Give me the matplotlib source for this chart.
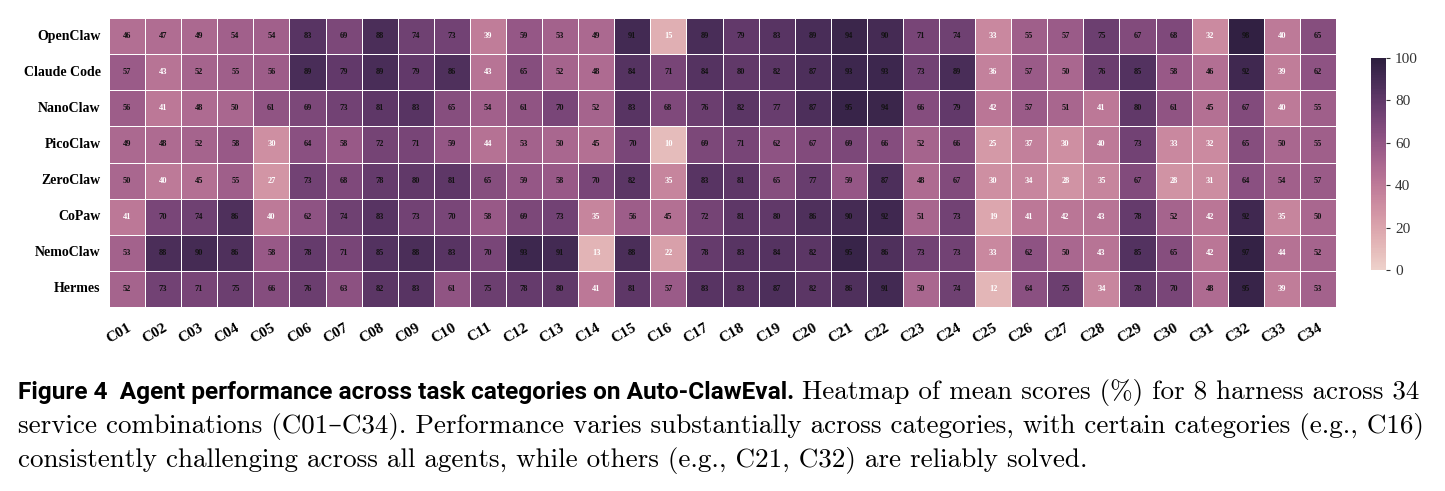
import numpy as np
import matplotlib
matplotlib.use("Agg")
import matplotlib.pyplot as plt
import seaborn as sns

agents = ["OpenClaw", "Claude Code", "NanoClaw", "PicoClaw",
          "ZeroClaw", "CoPaw", "NemoClaw", "Hermes"]
categories = ["C%02d" % i for i in range(1, 35)]

openclaw = [46, 47, 49, 54, 54, 83, 69, 88, 74, 73, 39, 59, 53, 49, 91, 15, 89,
            79, 83, 89, 94, 90, 71, 74, 33, 55, 57, 75, 67, 68, 32, 98, 40, 65]
claude_code = [57, 43, 52, 55, 56, 89, 79, 89, 79, 86, 43, 65, 52, 48, 84, 71, 84,
               80, 82, 87, 93, 93, 73, 89, 36, 57, 50, 76, 85, 58, 46, 92, 39, 62]
nanoclaw = [56, 41, 48, 50, 61, 69, 73, 81, 83, 65, 54, 61, 70, 52, 83, 68, 76,
            82, 77, 87, 95, 94, 66, 79, 42, 57, 51, 41, 80, 61, 45, 67, 40, 55]
picoclaw = [49, 48, 52, 58, 30, 64, 58, 72, 71, 59, 44, 53, 50, 45, 70, 10, 69,
            71, 62, 67, 69, 66, 52, 66, 25, 37, 30, 40, 73, 33, 32, 65, 50, 55]
zeroclaw = [50, 40, 45, 55, 27, 73, 68, 78, 80, 81, 65, 59, 58, 70, 82, 35, 83,
            81, 65, 77, 59, 87, 48, 67, 30, 34, 28, 35, 67, 28, 31, 64, 54, 57]
copaw = [41, 70, 74, 86, 40, 62, 74, 83, 73, 70, 58, 69, 73, 35, 56, 45, 72,
         81, 80, 86, 90, 92, 51, 73, 19, 41, 42, 43, 78, 52, 42, 92, 35, 50]
nemoclaw = [53, 88, 90, 86, 58, 78, 71, 85, 88, 83, 70, 93, 91, 13, 88, 22, 78,
            83, 84, 82, 95, 86, 73, 73, 33, 62, 50, 43, 85, 65, 42, 97, 44, 52]
hermes = [52, 73, 71, 75, 66, 76, 63, 82, 83, 61, 75, 78, 80, 41, 81, 57, 83,
          83, 87, 82, 86, 91, 50, 74, 12, 64, 75, 34, 78, 70, 48, 95, 39, 53]

scores = np.array([openclaw, claude_code, nanoclaw, picoclaw,
                   zeroclaw, copaw, nemoclaw, hermes])

serif = "Liberation Serif"
W, H = 1445, 491
fig = plt.figure(figsize=(W / 100, H / 100), dpi=100)

# heatmap + colorbar axes placed in pixel coords
ax = fig.add_axes([109 / W, 1 - 307 / H, (1336 - 109) / W, (307 - 18) / H])
cax = fig.add_axes([1371 / W, 1 - 270 / H, 15 / W, (270 - 58) / H])

cmap = sns.cubehelix_palette(as_cmap=True)
sns.heatmap(scores, ax=ax, cbar_ax=cax, cmap=cmap, vmin=0, vmax=100,
            linewidths=0.6, linecolor="white", annot=False)

# cell labels: white on light cells, black on dark ones
for i in range(scores.shape[0]):
    for j in range(scores.shape[1]):
        v = scores[i, j]
        ax.text(j + 0.5, i + 0.5, str(v), ha="center", va="center",
                fontsize=6, fontweight="bold", family=serif,
                color="white" if v < 45 else "#111111")

ax.set_yticks(np.arange(len(agents)) + 0.5)
ax.set_yticklabels(agents, rotation=0, fontsize=10, fontweight="bold", family=serif)
ax.set_xticks(np.arange(len(categories)) + 0.5)
ax.set_xticklabels(categories, rotation=30, ha="right", rotation_mode="anchor",
                   fontsize=11, fontweight="bold", family=serif)
ax.tick_params(length=0, pad=6)
ax.tick_params(axis="x", pad=10)

cax.tick_params(labelsize=11, length=3, width=0.8, colors="#333333")
for t in cax.get_yticklabels():
    t.set_family(serif)
cax.set_yticks([0, 20, 40, 60, 80, 100])

# caption: bold sans lead-in then serif body
fs = 19.5
lead = fig.text(18 / W, 1 - 393 / H, "Figure 4  Agent performance across task categories on Auto-ClawEval.",
                family="Roboto", fontweight="bold", fontsize=17.6, va="center", ha="left")
fig.canvas.draw()
bb = lead.get_window_extent()
x1 = (bb.x1 + 8) / W
body = ["cmr10", "DejaVu Serif"]
fig.text(x1, 1 - 393 / H, "Heatmap of mean scores (%) for 8 harness across 34",
         family=body, fontsize=fs, va="center", ha="left")
fig.text(18 / W, 1 - 427 / H,
         "service combinations (C01\u2013C34). Performance varies substantially across categories, with certain categories (e.g., C16)",
         family=body, fontsize=fs, va="center", ha="left")
fig.text(18 / W, 1 - 461 / H,
         "consistently challenging across all agents, while others (e.g., C21, C32) are reliably solved.",
         family=body, fontsize=fs, va="center", ha="left")

fig.savefig("out.png", dpi=100)
